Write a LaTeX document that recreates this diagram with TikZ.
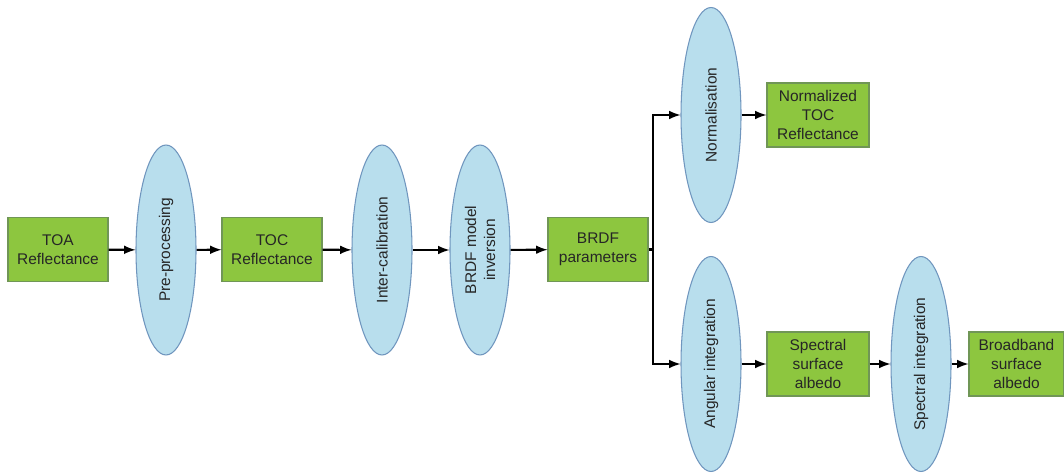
\documentclass[tikz,border=0pt]{standalone}
\usepackage{fontspec}
\setmainfont{Liberation Sans}
\usetikzlibrary{shapes.geometric}
\definecolor{boxgreen}{RGB}{141,198,63}
\definecolor{boxline}{RGB}{112,150,86}
\definecolor{ellblue}{RGB}{184,222,237}
\definecolor{ellline}{RGB}{112,150,190}

\begin{document}
\begin{tikzpicture}[
	data/.style={draw=boxline, fill=boxgreen, line width=0.6pt, minimum width=2cm, minimum height=1.28cm, inner sep=1pt, align=center, text=black!85, font=\fontsize{8.8}{10.8}\selectfont},
	proc/.style={ellipse, draw=ellline, fill=ellblue, line width=0.6pt, minimum width=1.2cm, minimum height=4.2cm, inner sep=0pt},
	lab/.style={rotate=90, align=center, text=black!85, font=\fontsize{8.8}{10.8}\selectfont},
	flow/.style={-latex, line width=1.2pt}]
	\useasboundingbox (0,0) rectangle (21.28,9.44);
	\node [data] (toa) at (1.16,4.45) {TOA\\Reflectance};
	\node [proc, label={[lab]center:Pre-processing}] (pre) at (3.32,4.44) {};
	\node [data] (toc) at (5.44,4.45) {TOC\\Reflectance};
	\node [proc, label={[lab]center:Inter-calibration}] (inter) at (7.64,4.44) {};
	\node [proc, label={[lab]center:BRDF model\\inversion}] (inv) at (9.6,4.44) {};
	\node [data] (param) at (11.96,4.45) {BRDF\\parameters};
	\coordinate (split) at (13.06,4.45);
	\node [proc, minimum height=4.3cm, label={[lab]center:Normalisation}] (norm) at (14.22,7.14) {};
	\node [data, minimum width=2.04cm] (ntoc) at (16.36,7.14) {Normalized\\TOC\\Reflectance};
	\node [proc, minimum height=4.3cm, label={[lab]center:Angular integration}] (ang) at (14.22,2.16) {};
	\node [data, minimum width=2.04cm] (spec) at (16.36,2.16) {Spectral\\surface\\albedo};
	\node [proc, minimum height=4.3cm, label={[lab]center:Spectral integration}] (sint) at (18.42,2.16) {};
	\node [data, minimum width=1.9cm] (broad) at (20.33,2.16) {Broadband\\surface\\albedo};

	\draw [flow] (toa) -- (pre);
	\draw [flow] (pre) -- (toc);
	\draw [flow] (toc) -- (inter);
	\draw [flow] (inter) -- (inv);
	\draw [flow] (inv) -- (param);
	\draw [line width=1.2pt] (param) -- (split);
	\draw [flow] (split) |- (norm.west);
	\draw [flow] (split) |- (ang.west);
	\draw [flow] (norm) -- (ntoc);
	\draw [flow] (ang) -- (spec);
	\draw [flow] (spec) -- (sint);
	\draw [flow] (sint) -- (broad);
\end{tikzpicture}
\end{document}
